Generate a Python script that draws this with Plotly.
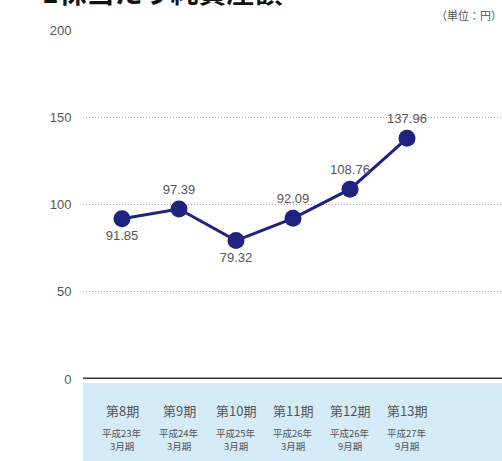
import plotly.graph_objects as go

periods = ["第8期", "第9期", "第10期", "第11期", "第12期", "第13期"]
years = ["平成23年", "平成24年", "平成25年", "平成26年", "平成26年", "平成27年"]
months = ["3月期", "3月期", "3月期", "3月期", "9月期", "9月期"]
values = [91.85, 97.39, 79.32, 92.09, 108.76, 137.96]
label_pos = ["bottom center", "top center", "bottom center",
             "top center", "top center", "top center"]
y_ticks = [0, 50, 100, 150, 200]
title_text = "1株当たり純資産額"
unit_text = "（単位：円）"

W, H = 502, 461
L, T, B = 83, 30, 82
ph = H - T - B
pw = W - L

def py(p):
    return (H - B - p) / ph

def px(p):
    return (p - L) / pw

font_num = "Liberation Sans Narrow, Arial Narrow, Liberation Sans, sans-serif"
font_jp = "Noto Sans CJK JP, sans-serif"
grey = "#555555"
navy = "#1f2380"

xs = list(range(len(values)))

fig = go.Figure()
fig.add_trace(go.Scatter(
    x=xs, y=values, mode="lines+markers+text",
    line=dict(color=navy, width=3),
    marker=dict(color=navy, size=17),
    text=[f"{v:.2f}" for v in values],
    textposition=label_pos,
    textfont=dict(family=font_num, size=13, color=grey),
    cliponaxis=False, hoverinfo="skip", showlegend=False,
))

# light blue category band
fig.add_shape(type="rect", xref="paper", yref="paper",
              x0=0, x1=1.02, y0=py(H + 5), y1=py(383),
              fillcolor="#d5ebf7", line=dict(width=0), layer="below")
# baseline
fig.add_shape(type="line", xref="paper", yref="y",
              x0=0, x1=1.02, y0=0, y1=0,
              line=dict(color="#3a3a3a", width=3))

for i, (p, yr, mo) in enumerate(zip(periods, years, months)):
    fig.add_annotation(x=i, y=py(410), xref="x", yref="paper", text=p,
                       showarrow=False, yanchor="middle", borderpad=0,
                       font=dict(family=font_jp, size=13, color=grey))
    fig.add_annotation(x=i, y=py(433), xref="x", yref="paper", text=yr,
                       showarrow=False, yanchor="middle", borderpad=0,
                       font=dict(family=font_jp, size=9.5, color=grey))
    fig.add_annotation(x=i, y=py(446), xref="x", yref="paper", text=mo,
                       showarrow=False, yanchor="middle", borderpad=0,
                       font=dict(family=font_jp, size=9.5, color=grey))

fig.add_annotation(x=px(40), y=py(13), xref="paper", yref="paper",
                   text="<b>" + title_text + "</b>", showarrow=False,
                   xanchor="left", yanchor="bottom",
                   font=dict(family=font_jp, size=28, color="#111111"))
fig.add_annotation(x=px(503), y=py(15), xref="paper", yref="paper",
                   text=unit_text, showarrow=False, xanchor="right",
                   yanchor="middle", borderpad=0,
                   font=dict(family=font_jp, size=11, color=grey))

fig.update_layout(
    width=W, height=H,
    margin=dict(l=L, r=0, t=T, b=B, pad=0),
    paper_bgcolor="white", plot_bgcolor="white",
    xaxis=dict(range=[-39 / 57, 380 / 57], showgrid=False, zeroline=False,
               showticklabels=False, showline=False, fixedrange=True),
    yaxis=dict(range=[0, 200], tickvals=y_ticks, showgrid=True,
               gridcolor="#a8a8a8", griddash="1px,2px", gridwidth=1,
               zeroline=False, showline=False, ticks="outside", ticklen=8,
               tickcolor="rgba(0,0,0,0)",
               tickfont=dict(family=font_num, size=13, color=grey),
               fixedrange=True),
)

fig.write_html("out.html", config={"displayModeBar": False},
               post_script="document.body.style.margin='0';"
                           "document.body.style.overflow='hidden';")
